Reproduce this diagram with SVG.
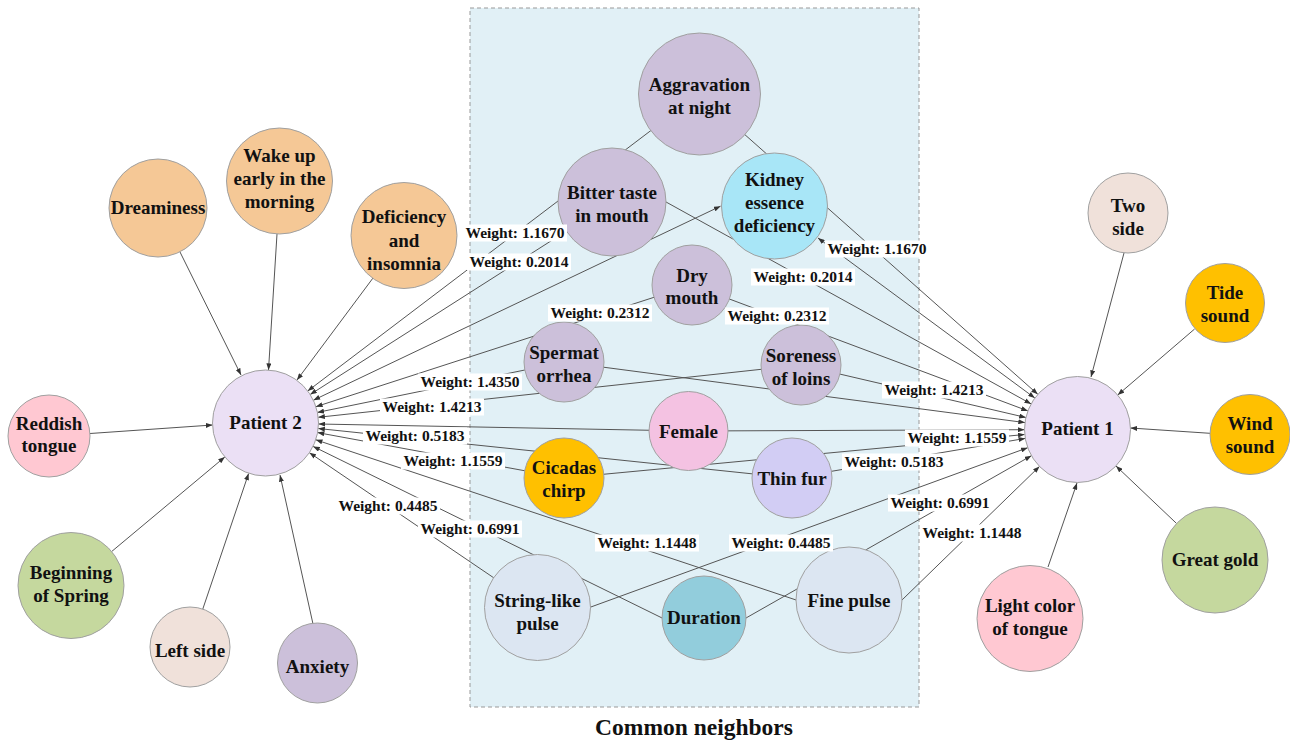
<svg xmlns="http://www.w3.org/2000/svg" width="1290" height="742" viewBox="0 0 1290 742">
<style>
.nd circle{stroke:#a0a0a0;stroke-width:1}
.nd text,.wl text,.cap{font-family:"Liberation Serif","Times New Roman",serif;font-weight:bold;fill:#111;text-anchor:middle}
.nd text{font-size:19px}
.wl text{font-size:15.5px}
.wl rect{fill:#fff}
.e{stroke:#555;stroke-width:1;fill:none;marker-end:url(#arr)}
.e2{marker-start:url(#arr)}
.purple{fill:#ccc0da}.orange{fill:#f5c896}.gold{fill:#ffc000}.pat{fill:#ebe0f5}
.pink{fill:#ffc8d2}.green{fill:#c5d89e}.beige{fill:#f0e1da}.pulse{fill:#dce6f2}
</style>
<defs>
<marker id="arr" viewBox="0 0 8 6" refX="8" refY="3" markerWidth="7" markerHeight="5" markerUnits="userSpaceOnUse" orient="auto-start-reverse">
<path d="M0,0 L8,3 L0,6 z" fill="#333"/>
</marker>
</defs>
<rect x="470" y="8" width="449" height="699" fill="#e1f0f6" stroke="#999" stroke-width="1" stroke-dasharray="4,3"/>
<text class="cap" x="694" y="735" font-size="23.5px">Common neighbors</text>

<g id="connectors">
<line class="e" x1="180" y1="252" x2="241" y2="375"/>
<line class="e" x1="277" y1="234" x2="268.5" y2="370"/>
<line class="e" x1="373" y1="278" x2="297" y2="380"/>
<line class="e" x1="90" y1="433.5" x2="212.5" y2="425"/>
<line class="e" x1="111.7" y1="551.5" x2="224.8" y2="457"/>
<line class="e" x1="202.8" y1="609" x2="248.6" y2="473.5"/>
<line class="e" x1="313" y1="624" x2="280" y2="475"/>
<line class="e" x1="1124" y1="253" x2="1091" y2="377"/>
<line class="e" x1="1194.6" y1="329" x2="1117.7" y2="395"/>
<line class="e" x1="1210" y1="433.3" x2="1130.5" y2="428"/>
<line class="e" x1="1176.6" y1="523.5" x2="1116" y2="466"/>
<line class="e" x1="1048" y1="567" x2="1077" y2="483"/>
<line class="e" x1="699" y1="94" x2="307.7" y2="391"/>
<line class="e" x1="612" y1="202" x2="310.2" y2="394.5"/>
<line class="e e2" x1="313.4" y1="400.2" x2="720.5" y2="206.2"/>
<line class="e" x1="692" y1="285" x2="315.9" y2="406.7"/>
<line class="e" x1="564" y1="362" x2="317.4" y2="412.4"/>
<line class="e" x1="801" y1="365" x2="318.2" y2="417.3"/>
<line class="e" x1="688.5" y1="431" x2="318.5" y2="424"/>
<line class="e" x1="792" y1="478" x2="318.2" y2="428.5"/>
<line class="e" x1="564" y1="478" x2="317.6" y2="432.6"/>
<line class="e" x1="815" y1="606.3" x2="315.8" y2="439.8"/>
<line class="e" x1="680" y1="626.8" x2="313.1" y2="446.4"/>
<line class="e" x1="537.5" y1="607.5" x2="309.4" y2="452.7"/>
<line class="e" x1="699" y1="94" x2="1037.8" y2="394.3"/>
<line class="e" x1="648.5" y1="192.3" x2="1031.1" y2="403.9"/>
<line class="e e2" x1="1034.8" y1="398" x2="818" y2="238"/>
<line class="e" x1="692" y1="285" x2="1027.9" y2="410.9"/>
<line class="e" x1="564" y1="362" x2="1025" y2="422.6"/>
<line class="e" x1="801" y1="365" x2="1025.9" y2="417.5"/>
<line class="e" x1="688.5" y1="431" x2="1024.5" y2="429.7"/>
<line class="e" x1="564" y1="478" x2="1024.7" y2="434.5"/>
<line class="e" x1="792" y1="478" x2="1025.3" y2="438.4"/>
<line class="e" x1="576.9" y1="612.1" x2="1027.7" y2="447.7"/>
<line class="e" x1="733" y1="625.4" x2="1031.4" y2="455.7"/>
<line class="e" x1="887.7" y1="613.9" x2="1039.5" y2="466.4"/>
</g>

<g id="aggravation" class="nd"><circle class="purple" cx="699.5" cy="94" r="61"/><text x="699.5" y="91">Aggravation</text><text x="699.5" y="114">at night</text></g>
<g id="bitter" class="nd"><circle class="purple" cx="612" cy="202" r="54"/><text x="612" y="199">Bitter taste</text><text x="612" y="222">in mouth</text></g>
<g id="kidney" class="nd"><circle cx="774.5" cy="206" r="53" fill="#a8e6f7"/><text x="774.5" y="186">Kidney</text><text x="774.5" y="208.5">essence</text><text x="774.5" y="231.5">deficiency</text></g>
<g id="dry-mouth" class="nd"><circle class="purple" cx="692" cy="285" r="40"/><text x="692" y="281.5">Dry</text><text x="692" y="304">mouth</text></g>
<g id="spermatorrhea" class="nd"><circle class="purple" cx="564" cy="362" r="40"/><text x="564" y="358.5">Spermat</text><text x="564" y="381.5">orrhea</text></g>
<g id="soreness" class="nd"><circle class="purple" cx="801" cy="365" r="40"/><text x="801" y="362">Soreness</text><text x="801" y="385">of loins</text></g>
<g id="female" class="nd"><circle cx="688.5" cy="431" r="39.5" fill="#f4c2e2"/><text x="688.5" y="438">Female</text></g>
<g id="cicadas" class="nd"><circle class="gold" cx="564" cy="478" r="40"/><text x="564" y="473.5">Cicadas</text><text x="564" y="496.5">chirp</text></g>
<g id="thin-fur" class="nd"><circle cx="792" cy="478" r="40" fill="#d2cdf4"/><text x="792" y="485">Thin fur</text></g>
<g id="string-like" class="nd"><circle class="pulse" cx="537.5" cy="607.5" r="53"/><text x="537.5" y="607">String-like</text><text x="537.5" y="630">pulse</text></g>
<g id="duration" class="nd"><circle cx="704" cy="618" r="42" fill="#92cddc"/><text x="704" y="623.5">Duration</text></g>
<g id="fine-pulse" class="nd"><circle class="pulse" cx="849" cy="600" r="53"/><text x="849" y="607">Fine pulse</text></g>

<g id="dreaminess" class="nd"><circle class="orange" cx="158" cy="208" r="49"/><text x="158" y="213.5">Dreaminess</text></g>
<g id="wake-up" class="nd"><circle class="orange" cx="279.5" cy="181" r="53"/><text x="279.5" y="162">Wake up</text><text x="279.5" y="185">early in the</text><text x="279.5" y="208">morning</text></g>
<g id="deficiency-insomnia" class="nd"><circle class="orange" cx="404" cy="235.5" r="53"/><text x="404" y="223">Deficiency</text><text x="404" y="246.5">and</text><text x="404" y="270">insomnia</text></g>
<g id="patient2" class="nd"><circle class="pat" cx="265.5" cy="423" r="53"/><text x="265.5" y="428.5">Patient 2</text></g>
<g id="reddish" class="nd"><circle class="pink" cx="49" cy="436" r="41"/><text x="49" y="429.5">Reddish</text><text x="49" y="452">tongue</text></g>
<g id="spring" class="nd"><circle class="green" cx="71" cy="585.5" r="53"/><text x="71" y="578.5">Beginning</text><text x="71" y="601.5">of Spring</text></g>
<g id="left-side" class="nd"><circle class="beige" cx="190" cy="647" r="40"/><text x="190" y="656.5">Left side</text></g>
<g id="anxiety" class="nd"><circle class="purple" cx="317.5" cy="663" r="40"/><text x="317.5" y="672.5">Anxiety</text></g>

<g id="two-side" class="nd"><circle class="beige" cx="1128" cy="213" r="40"/><text x="1128" y="211.5">Two</text><text x="1128" y="235">side</text></g>
<g id="tide" class="nd"><circle class="gold" cx="1225" cy="303" r="39.5"/><text x="1225" y="298.5">Tide</text><text x="1225" y="321.5">sound</text></g>
<g id="patient1" class="nd"><circle class="pat" cx="1077.5" cy="429.5" r="53"/><text x="1077.5" y="435">Patient 1</text></g>
<g id="wind" class="nd"><circle class="gold" cx="1250" cy="434.5" r="40"/><text x="1250" y="429.5">Wind</text><text x="1250" y="452.5">sound</text></g>
<g id="great-gold" class="nd"><circle class="green" cx="1215" cy="560" r="53"/><text x="1215" y="566">Great gold</text></g>
<g id="light-color" class="nd"><circle class="pink" cx="1030" cy="618.5" r="53"/><text x="1030" y="611.5">Light color</text><text x="1030" y="635">of tongue</text></g>

<g id="edge-labels" class="wl">
<rect x="463" y="224.5" width="104" height="17"/><text x="515" y="238">Weight: 1.1670</text>
<rect x="467" y="253.5" width="104" height="17"/><text x="519" y="267">Weight: 0.2014</text>
<rect x="548" y="304.5" width="104" height="17"/><text x="600" y="318">Weight: 0.2312</text>
<rect x="418" y="373.5" width="104" height="17"/><text x="470" y="387">Weight: 1.4350</text>
<rect x="380" y="398.5" width="104" height="17"/><text x="432" y="412">Weight: 1.4213</text>
<rect x="363" y="427.5" width="104" height="17"/><text x="415" y="441">Weight: 0.5183</text>
<rect x="401" y="452.5" width="104" height="17"/><text x="453" y="466">Weight: 1.1559</text>
<rect x="336" y="497.5" width="104" height="17"/><text x="388" y="511">Weight: 0.4485</text>
<rect x="418" y="520.5" width="104" height="17"/><text x="470" y="534">Weight: 0.6991</text>
<rect x="595" y="534.5" width="104" height="17"/><text x="647" y="548">Weight: 1.1448</text>
<rect x="825" y="240.5" width="104" height="17"/><text x="877" y="254">Weight: 1.1670</text>
<rect x="751" y="268.5" width="104" height="17"/><text x="803" y="282">Weight: 0.2014</text>
<rect x="725" y="307.5" width="104" height="17"/><text x="777" y="321">Weight: 0.2312</text>
<rect x="882" y="381.5" width="104" height="17"/><text x="934" y="395">Weight: 1.4213</text>
<rect x="905" y="429.5" width="104" height="17"/><text x="957" y="443">Weight: 1.1559</text>
<rect x="842" y="453.5" width="104" height="17"/><text x="894" y="467">Weight: 0.5183</text>
<rect x="888" y="494.5" width="104" height="17"/><text x="940" y="508">Weight: 0.6991</text>
<rect x="729" y="534.5" width="104" height="17"/><text x="781" y="548">Weight: 0.4485</text>
<rect x="920" y="524.5" width="104" height="17"/><text x="972" y="538">Weight: 1.1448</text>
</g>
</svg>
